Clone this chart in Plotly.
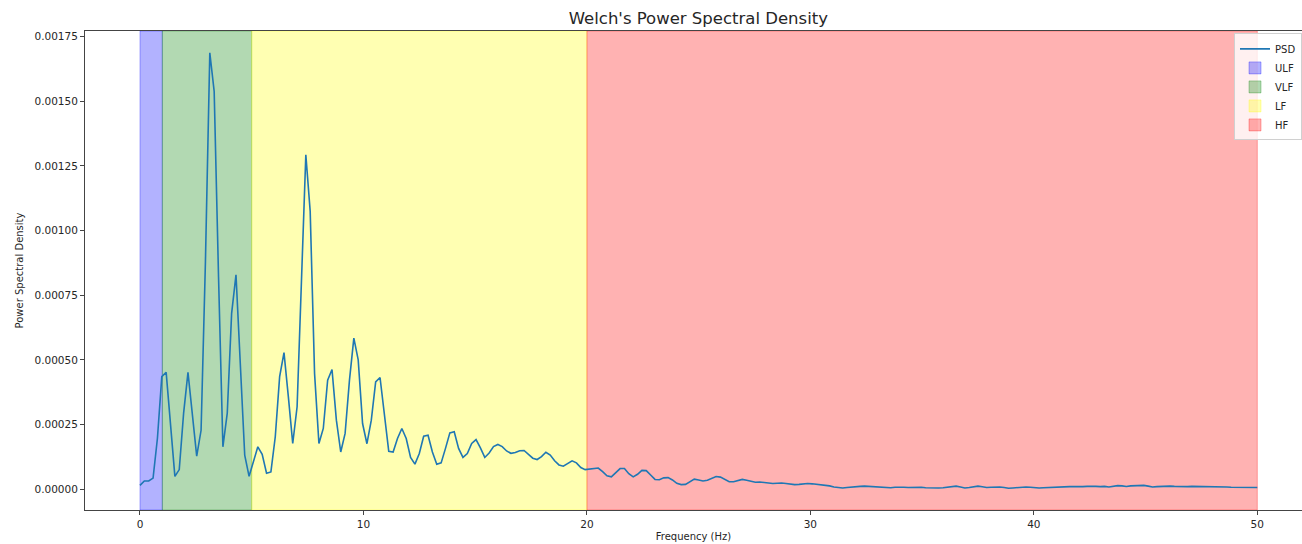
import numpy as np
import plotly.graph_objects as go

# Welch estimate settings: frequency bins are k * FS / NPERSEG
FS = 100.0
NPERSEG = 512
freqs = np.arange(NPERSEG // 2 + 1) * FS / NPERSEG

# PSD values per bin, in units of 1e-5
psd_e5 = [
    1.5, 3.2, 3.2, 4.3, 19.7, 43.5, 45.2, 25.6, 5.0, 7.6,
    29.4, 45.2, 29.4, 12.8, 22.8, 88.0, 168.7, 153.8, 82.0, 16.4,
    29.4, 68.0, 82.9, 48.0, 13.2, 5.0, 11.2, 16.4, 13.5, 6.2,
    6.7, 20.3, 43.5, 52.8, 35.7, 17.7, 31.9, 80.9, 129.3, 107.4,
    44.8, 17.7, 23.5, 42.2, 46.3, 26.7, 14.4, 21.6, 42.2, 58.4,
    50.0, 25.4, 17.6, 26.7, 41.5, 43.2, 28.7, 14.7, 14.4, 19.6,
    23.5, 19.6, 12.3, 9.7, 13.8, 20.5, 20.9, 14.4, 9.7, 10.2,
    15.8, 21.8, 22.2, 15.8, 12.3, 13.8, 17.7, 19.2, 16.0, 12.3,
    14.0, 16.5, 17.3, 16.5, 14.8, 13.9, 14.2, 14.9, 15.0, 13.6,
    12.0, 11.5, 12.6, 14.3, 13.2, 11.0, 9.4, 8.9, 9.8, 11.0,
    10.2, 8.4, 7.6, 7.8, 8.1, 8.2, 6.8, 5.2, 4.8, 6.3,
    8.0, 8.0, 6.0, 4.8, 5.8, 7.3, 7.2, 5.5, 3.8, 3.7,
    4.4, 4.5, 3.6, 2.3, 1.8, 1.9, 3.0, 3.9, 3.6, 3.2,
    3.5, 4.2, 4.9, 4.7, 3.8, 2.9, 2.9, 3.5, 3.8, 3.5,
    3.0, 2.7, 2.8, 2.6, 2.3, 2.2, 2.3, 2.4, 2.2, 2.0,
    1.8, 1.9, 2.1, 2.2, 2.1, 1.9, 1.8, 1.6, 1.3, 0.9,
    0.6, 0.5, 0.7, 0.9, 1.0, 1.1, 1.2, 1.1, 0.9, 0.7,
    0.6, 0.5, 0.6, 0.8, 0.9, 0.8, 0.7, 0.8, 0.9, 0.8,
    0.6, 0.5, 0.6, 0.5, 0.6, 0.8, 1.0, 1.2, 0.9, 0.5,
    0.7, 1.0, 1.2, 1.0, 0.7, 0.8, 0.9, 0.9, 0.7, 0.4,
    0.5, 0.7, 0.8, 0.9, 0.8, 0.6, 0.5, 0.6, 0.7, 0.8,
    0.9, 0.8, 0.9, 1.0, 1.0, 0.9, 1.0, 1.1, 1.2, 1.1,
    1.0, 1.1, 0.9, 1.1, 1.4, 1.3, 1.1, 1.3, 1.4, 1.6,
    1.5, 1.2, 0.9, 1.0, 1.1, 1.2, 1.2, 1.1, 1.0, 1.1,
    1.0, 1.1, 1.1, 1.0, 1.0, 1.0, 1.0, 0.9, 0.9, 0.9,
    0.8, 0.8, 0.8, 0.8, 0.8, 0.7, 0.7,
]
psd = np.array(psd_e5) * 1e-5

# Frequency bands
band_names = ["ULF", "VLF", "LF", "HF"]
band_lo = [0, 1, 5, 20]
band_hi = [1, 5, 20, 50]
band_colors = ["0,0,255", "0,128,0", "255,255,0", "255,0,0"]
BAND_ALPHA = 0.3

x_ticks = [0, 10, 20, 30, 40, 50]
y_ticks = [0.0, 0.00025, 0.0005, 0.00075, 0.001, 0.00125, 0.0015, 0.00175]

FONT = "DejaVu Sans"

fig = go.Figure()
fig.add_trace(go.Scatter(
    x=freqs, y=psd, mode="lines", name="PSD",
    line=dict(color="#1f77b4", width=1.6),
))

for name, lo, hi, rgb in zip(band_names, band_lo, band_hi, band_colors):
    fig.add_shape(
        type="rect", xref="x", yref="y domain",
        x0=lo, x1=hi, y0=0, y1=1,
        fillcolor=f"rgba({rgb},{BAND_ALPHA})",
        line=dict(color=f"rgba({rgb},{BAND_ALPHA})", width=1),
        layer="below", name=name, showlegend=True,
    )

# data margins as in a 5% padded autoscale
ymin, ymax = psd.min(), psd.max()
pad = (ymax - ymin) * 0.05

fig.update_layout(
    width=1302, height=544, autosize=False,
    margin=dict(l=85, r=0, t=31, b=34),
    paper_bgcolor="white", plot_bgcolor="white",
    font=dict(family=FONT, size=10.5, color="#262626"),
    title=dict(text="Welch's Power Spectral Density", x=0.504, xanchor="center",
               xref="paper", y=0.967, yanchor="middle", yref="container",
               font=dict(family=FONT, size=16.5, color="#262626")),
    showlegend=True,
    legend=dict(x=1.0, xanchor="right", y=0.995, yanchor="top",
                bgcolor="rgba(255,255,255,0.8)", bordercolor="#d0d0d0", borderwidth=1,
                font=dict(family=FONT, size=10, color="#262626"),
                itemwidth=30, tracegroupgap=0),
    xaxis=dict(range=[-2.46, 52.0], tickvals=x_ticks, ticks="outside", ticklen=4,
               tickcolor="#444", showline=True, linecolor="#444", linewidth=1,
               mirror=True, showgrid=False, zeroline=False,
               title=dict(text="Frequency (Hz)", standoff=4,
                          font=dict(family=FONT, size=10))),
    yaxis=dict(range=[ymin - pad, ymax + pad], tickvals=y_ticks, tickformat=".5f",
               ticks="outside", ticklen=4, tickcolor="#444", showline=True,
               linecolor="#444", linewidth=1, mirror=False, showgrid=False,
               zeroline=False,
               title=dict(text="Power Spectral Density", standoff=8,
                          font=dict(family=FONT, size=10))),
)

fig.write_html("out.html")
